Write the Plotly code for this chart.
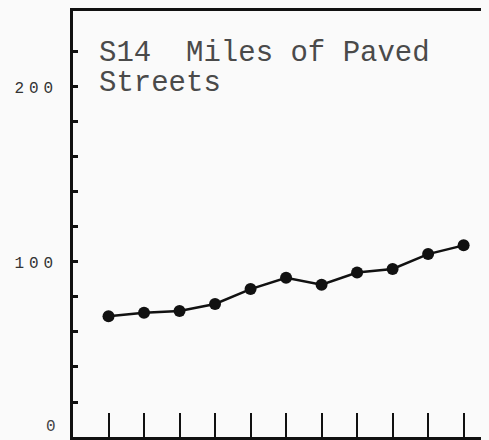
import plotly.graph_objects as go

# one point per reporting year (unlabeled on the original)
years = [1, 2, 3, 4, 5, 6, 7, 8, 9, 10, 11]
miles = [69, 71, 72, 76, 84.5, 91, 87, 94, 96, 104.5, 109.5]

y_tickvals = [0, 20, 40, 60, 80, 100, 120, 140, 160, 180, 200, 220]
y_labels = {100: "100", 200: "200"}

title_lines = ["S14  Miles of Paved", "Streets"]

MONO = "Liberation Mono, Courier New, monospace"
INK = "#111111"
BG = "#fafafa"


def spaced(s):
    # typewriter labels have a half space between digits
    gap = "<span style='font-size:8px'> </span>"
    return gap.join(s)


y_ticktext = [spaced(y_labels[v]) if v in y_labels else "" for v in y_tickvals]

fig = go.Figure()
fig.add_trace(go.Scatter(
    x=years, y=miles, mode="lines+markers",
    line=dict(color=INK, width=2.5),
    marker=dict(color=INK, size=12),
    showlegend=False, hoverinfo="skip",
))

# title typed inside the frame
for i, txt in enumerate(title_lines):
    fig.add_annotation(
        text=txt, xref="paper", yref="paper", x=0.056, y=0.9 - i * 0.071,
        xanchor="left", yanchor="middle", showarrow=False,
        font=dict(family=MONO, size=29, color="#4a4a4a"),
    )

# zero label sits a little above the baseline on the original
fig.add_annotation(
    text="0", xref="paper", yref="y", x=0, y=0, yshift=10,
    xanchor="right", yanchor="middle", xshift=-15, showarrow=False,
    font=dict(family=MONO, size=16, color="#444444"),
)

fig.update_xaxes(
    range=[0.0, 11.94], showgrid=False, zeroline=False, automargin=False,
    showline=True, linecolor=INK, linewidth=2.5, mirror=True,
    tickvals=years, ticktext=[""] * len(years),
    ticks="inside", ticklen=24, tickwidth=2, tickcolor=INK,
)
fig.update_yaxes(
    range=[0, 243.4], showgrid=False, zeroline=False, automargin=False,
    showline=True, linecolor=INK, linewidth=2.5,
    tickvals=y_tickvals, ticktext=y_ticktext,
    ticks="inside", ticklen=5, tickwidth=2.5, tickcolor=INK,
    ticklabelstandoff=14,
    tickfont=dict(family=MONO, size=16, color="#333333"),
)

# the page body adds an 8px offset, so margins are trimmed to match
fig.update_layout(
    width=489, height=440,
    margin=dict(l=65, r=0, t=3, b=11),
    paper_bgcolor=BG, plot_bgcolor=BG,
)

fig.write_html("out.html", post_script="document.body.style.background='%s';" % BG)
